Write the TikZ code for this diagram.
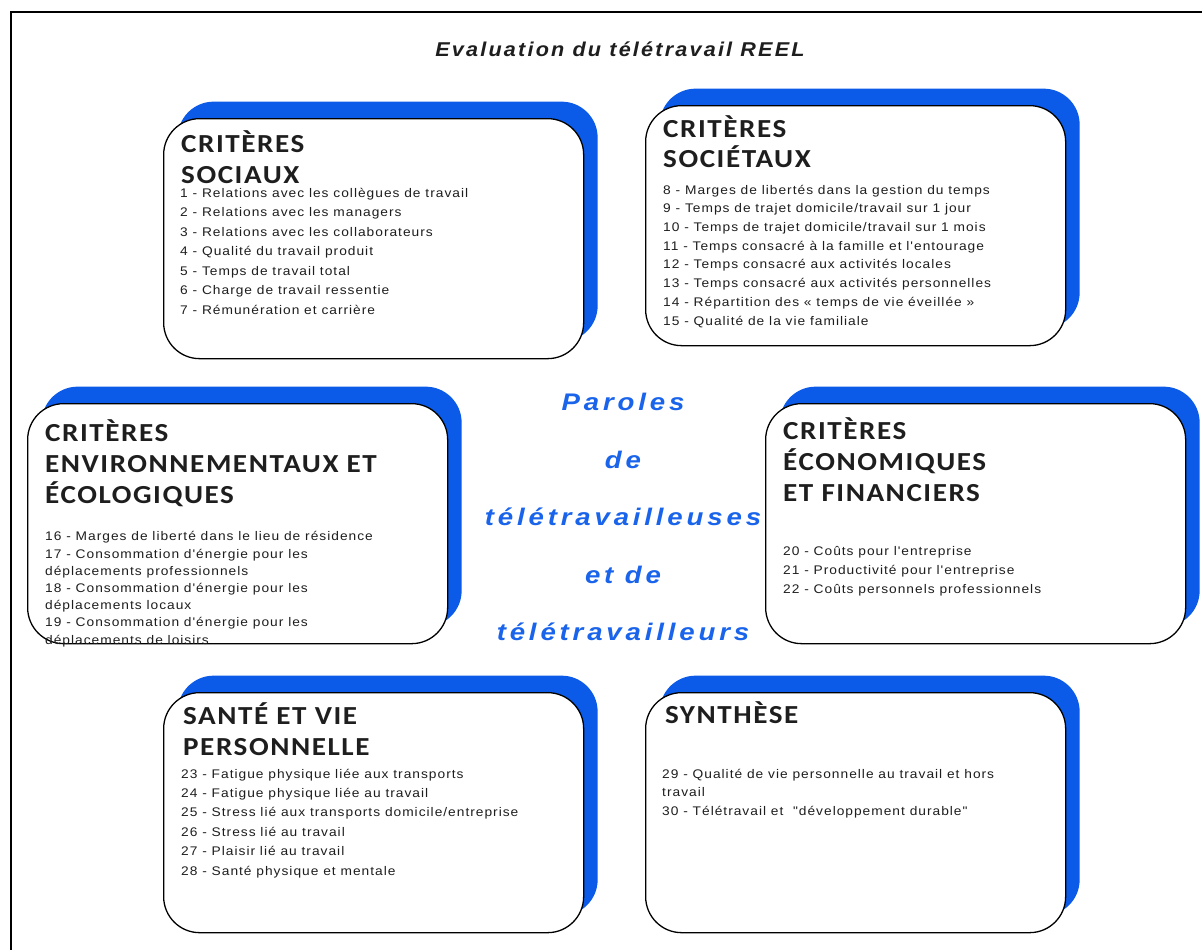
\documentclass[tikz,border=0pt]{standalone}
\usepackage{fontspec}
\setmainfont{Liberation Sans}
\newfontfamily\headfont[FakeStretch=1.12,LetterSpace=6]{Carlito}
\newfontfamily\itemfont[FakeStretch=1.1,LetterSpace=8]{Liberation Sans}
\newfontfamily\titlefont[FakeStretch=1.08,LetterSpace=11]{Liberation Sans}
\newfontfamily\centerfont[FakeStretch=1.15,LetterSpace=16]{Liberation Sans}
\usetikzlibrary{shadows}
\definecolor{shadowblue}{RGB}{12,90,232}
\definecolor{paroleblue}{RGB}{25,100,235}
\definecolor{inkgray}{RGB}{30,30,30}
\begin{document}
\begin{tikzpicture}[x=1pt,y=-1pt,
  box/.style={draw=black, line width=1.3pt, fill=white, rounded corners=36pt,
    minimum width=420pt, minimum height=240pt, anchor=north west, inner sep=0pt,
    general shadow={fill=shadowblue, shadow xshift=14pt, shadow yshift=17pt}},
  head/.style={anchor=base west, align=left, inner sep=0pt, text=inkgray,
    font=\headfont\bfseries\fontsize{26}{31}\selectfont},
  items/.style={anchor=base west, align=left, inner sep=0pt, text=inkgray,
    font=\itemfont\fontsize{12.5}{19.5}\selectfont},
  parole/.style={anchor=base, inner sep=0pt, text=paroleblue,
    font=\centerfont\bfseries\itshape\fontsize{24}{28}\selectfont},
  titlestyle/.style={anchor=base, inner sep=0pt, text=inkgray,
    font=\titlefont\bfseries\itshape\fontsize{20}{24}\selectfont}]
\useasboundingbox (0,0) rectangle (1202,950);
\fill[white] (0,0) rectangle (1202,950);
% frame
\coordinate (fra) at (11,950);
\coordinate (frb) at (11,12);
\coordinate (frc) at (1202,12);
\draw[line width=1.8pt, black] (fra) -- (frb) -- (frc);
% title
\node[titlestyle] (title) at (620,57) {Evaluation du télétravail REEL};
% centre text
\node[parole] (p1) at (623,410) {Paroles};
\node[parole] (p2) at (623,468) {de};
\node[parole] (p3) at (623,525) {télétravailleuses};
\node[parole] (p4) at (623,583) {et de};
\node[parole] (p5) at (623,640) {télétravailleurs};
% boxes
\node[box] (soc) at (163,118) {};
\node[box] (socie) at (645,105) {};
\node[box] (env) at (27,403) {};
\node[box] (eco) at (765,403) {};
\node[box] (sante) at (163,692) {};
\node[box] (synth) at (645,692) {};
% (multi-line nodes: base anchor = last line's baseline)
% box 1
\node[head] (socH) at (181,183) {CRITÈRES\\SOCIAUX};
\node[items] (socI) at (180,314) {1 - Relations avec les collègues de travail\\
2 - Relations avec les managers\\
3 - Relations avec les collaborateurs\\
4 - Qualité du travail produit\\
5 - Temps de travail total\\
6 - Charge de travail ressentie\\
7 - Rémunération et carrière};
% box 2
\node[head, font=\headfont\bfseries\fontsize{26}{30}\selectfont] (socieH) at (663,167) {CRITÈRES\\SOCIÉTAUX};
\node[items, font=\itemfont\fontsize{12.5}{18.7}\selectfont] (socieI) at (663,325) {8 - Marges de libertés dans la gestion du temps\\
9 - Temps de trajet domicile/travail sur 1 jour\\
10 - Temps de trajet domicile/travail sur 1 mois\\
11 - Temps consacré à la famille et l'entourage\\
12 - Temps consacré aux activités locales\\
13 - Temps consacré aux activités personnelles\\
14 - Répartition des « temps de vie éveillée »\\
15 - Qualité de la vie familiale};
% box 3
\node[head] (envH) at (45,503) {CRITÈRES\\ENVIRONNEMENTAUX ET\\ÉCOLOGIQUES};
\node[items, font=\itemfont\fontsize{12.5}{17.2}\selectfont] (envI) at (45,644) {16 - Marges de liberté dans le lieu de résidence\\
17 - Consommation d'énergie pour les\\
déplacements professionnels\\
18 - Consommation d'énergie pour les\\
déplacements locaux\\
19 - Consommation d'énergie pour les\\
déplacements de loisirs};
% box 4
\node[head] (ecoH) at (783,501) {CRITÈRES\\ÉCONOMIQUES\\ET FINANCIERS};
\node[items, font=\itemfont\fontsize{12.5}{19}\selectfont] (ecoI) at (783,593) {20 - Coûts pour l'entreprise\\
21 - Productivité pour l'entreprise\\
22 - Coûts personnels professionnels};
% box 5
\node[head] (santeH) at (183,755) {SANTÉ ET VIE\\PERSONNELLE};
\node[items, font=\itemfont\fontsize{12.5}{19.4}\selectfont] (santeI) at (181,875) {23 - Fatigue physique liée aux transports\\
24 - Fatigue physique liée au travail\\
25 - Stress lié aux transports domicile/entreprise\\
26 - Stress lié au travail\\
27 - Plaisir lié au travail\\
28 - Santé physique et mentale};
% box 6
\node[head] (synthH) at (665,723) {SYNTHÈSE};
\node[items, font=\itemfont\fontsize{12.5}{18.5}\selectfont] (synthI) at (662,815) {29 - Qualité de vie personnelle au travail et hors\\
travail\\
30 - Télétravail et \ "développement durable"};
\end{tikzpicture}
\end{document}
